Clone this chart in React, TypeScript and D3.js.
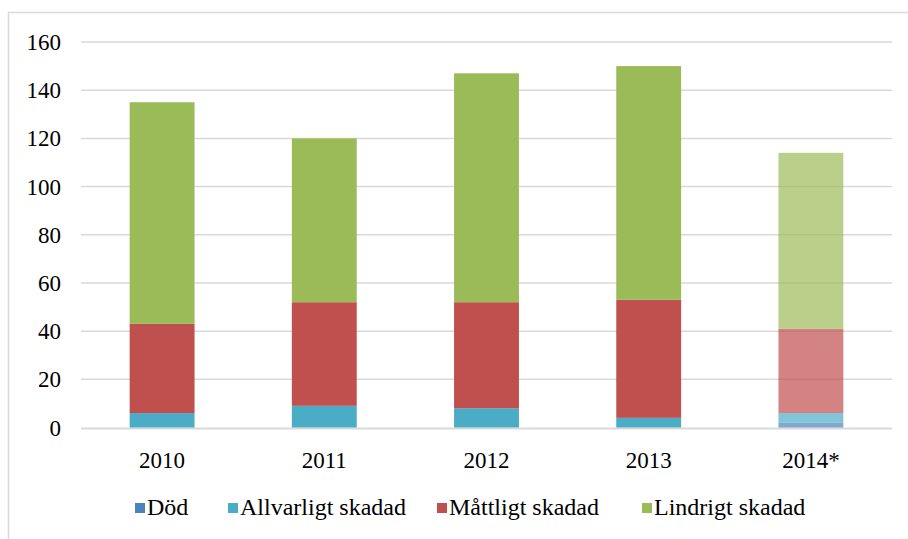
import React, { useEffect, useRef } from "react";
import * as d3 from "d3";

const years = ["2010", "2011", "2012", "2013", "2014*"];
const seriesNames = ["Död", "Allvarligt skadad", "Måttligt skadad", "Lindrigt skadad"];
const dod = [0, 0, 0, 0, 2];
const allvarligt = [6, 9, 8, 4, 4];
const mattligt = [37, 43, 44, 49, 35];
const lindrigt = [92, 68, 95, 97, 73];
const colors = ["#4F81BD", "#4BACC6", "#C0504D", "#9BBB59"];
const yTicks = [0, 20, 40, 60, 80, 100, 120, 140, 160];

const FONT = "Liberation Serif";

const App: React.FC = () => {
  const svgRef = useRef<SVGSVGElement>(null);

  useEffect(() => {
    if (!svgRef.current) return;
    const svg = d3.select(svgRef.current);
    svg.selectAll("*").remove();

    // chart border (cut off on the right and bottom like the source)
    svg
      .append("rect")
      .attr("x", 8.5)
      .attr("y", 12.5)
      .attr("width", 960)
      .attr("height", 600)
      .attr("fill", "#fff")
      .attr("stroke", "#d9d9d9")
      .attr("stroke-width", 1.5);

    const x = d3.scaleBand().domain(years).range([81, 892]).padding(0);
    const y = d3.scaleLinear().domain([0, 160]).range([427.5, 42]);
    const barW = x.bandwidth() * 0.4;

    // gridlines
    svg
      .append("g")
      .selectAll("line")
      .data(yTicks.slice(1))
      .enter()
      .append("line")
      .attr("x1", 81)
      .attr("x2", 892)
      .attr("y1", (d) => y(d))
      .attr("y2", (d) => y(d))
      .attr("stroke", "#d9d9d9")
      .attr("stroke-width", 1.5);

    // y tick labels
    svg
      .append("g")
      .selectAll("text")
      .data(yTicks)
      .enter()
      .append("text")
      .attr("x", 61)
      .attr("y", (d) => y(d))
      .attr("dy", "0.35em")
      .attr("text-anchor", "end")
      .attr("font-family", FONT)
      .attr("font-size", 23)
      .attr("fill", "#000")
      .text((d) => d);

    // stacked bars
    const table = years.map((yr, i) => ({
      year: yr,
      [seriesNames[0]]: dod[i],
      [seriesNames[1]]: allvarligt[i],
      [seriesNames[2]]: mattligt[i],
      [seriesNames[3]]: lindrigt[i],
    }));
    const stack = d3.stack<any>().keys(seriesNames)(table);

    // x axis line
    svg
      .append("line")
      .attr("x1", 81)
      .attr("x2", 892)
      .attr("y1", y(0) + 1)
      .attr("y2", y(0) + 1)
      .attr("stroke", "#d9d9d9")
      .attr("stroke-width", 2);

    stack.forEach((layer, si) => {
      svg
        .append("g")
        .selectAll("rect")
        .data(layer)
        .enter()
        .append("rect")
        .attr("x", (d) => (x(d.data.year) || 0) + (x.bandwidth() - barW) / 2)
        .attr("width", barW)
        .attr("y", (d) => y(d[1]))
        .attr("height", (d) => y(d[0]) - y(d[1]))
        .attr("fill", colors[si])
        .attr("opacity", (d) => (d.data.year === "2014*" ? 0.7 : 1));
    });

    // x tick labels
    svg
      .append("g")
      .selectAll("text")
      .data(years)
      .enter()
      .append("text")
      .attr("x", (d) => (x(d) || 0) + x.bandwidth() / 2)
      .attr("y", 460)
      .attr("dy", "0.35em")
      .attr("text-anchor", "middle")
      .attr("font-family", FONT)
      .attr("font-size", 23)
      .attr("fill", "#000")
      .text((d) => d);

    // legend
    const legendX = [135, 228, 437, 642];
    const lg = svg
      .append("g")
      .selectAll("g")
      .data(seriesNames)
      .enter()
      .append("g")
      .attr("transform", (_, i) => `translate(${legendX[i]}, 507)`);
    lg.append("rect")
      .attr("x", 0)
      .attr("y", -4)
      .attr("width", 10)
      .attr("height", 10)
      .attr("fill", (_, i) => colors[i]);
    lg.append("text")
      .attr("x", 12)
      .attr("y", 0)
      .attr("dy", "0.35em")
      .attr("font-family", FONT)
      .attr("font-size", 24)
      .attr("fill", "#000")
      .text((d) => d);
  }, []);

  return (
    <div style={{ position: "absolute", left: 0, top: 0 }}>
      <svg ref={svgRef} width={908} height={539} style={{ display: "block" }}></svg>
    </div>
  );
};

export default App;
